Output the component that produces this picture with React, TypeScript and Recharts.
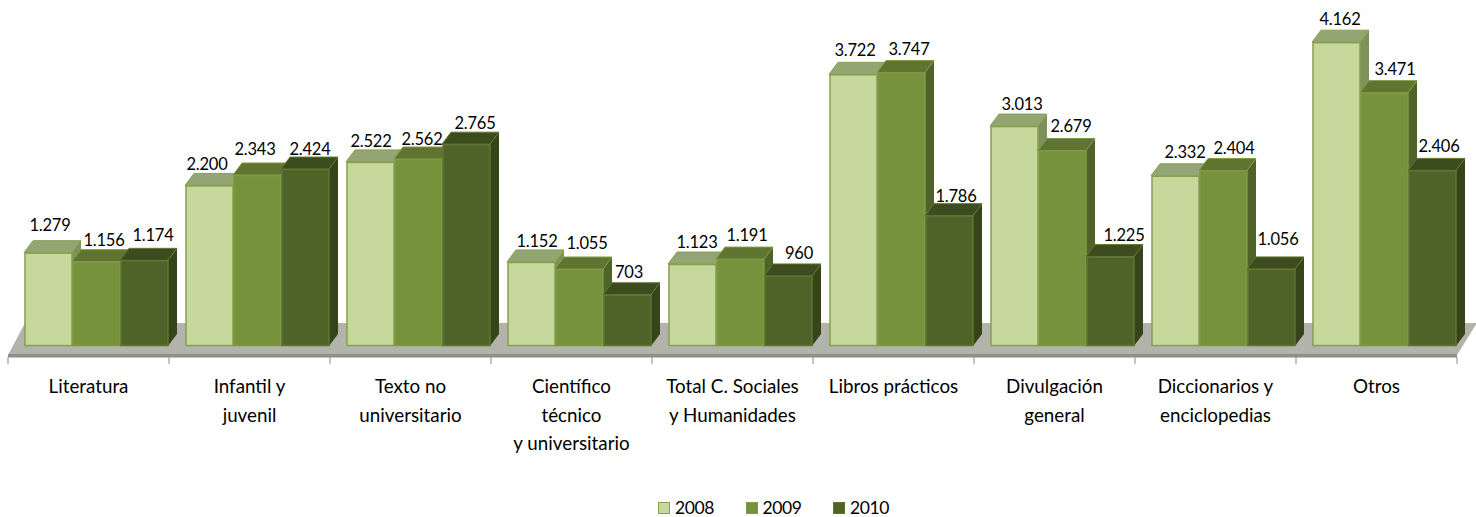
import React from "react";
import { BarChart, Bar, XAxis, YAxis, Legend, LabelList, ReferenceArea } from "recharts";

const categories = [
  ["Literatura"],
  ["Infantil y", "juvenil"],
  ["Texto no", "universitario"],
  ["Científico", "técnico", "y universitario"],
  ["Total C. Sociales", "y Humanidades"],
  ["Libros prácticos"],
  ["Divulgación", "general"],
  ["Diccionarios y", "enciclopedias"],
  ["Otros"],
];
const values2008 = [1279, 2200, 2522, 1152, 1123, 3722, 3013, 2332, 4162];
const values2009 = [1156, 2343, 2562, 1055, 1191, 3747, 2679, 2404, 3471];
const values2010 = [1174, 2424, 2765, 703, 960, 1786, 1225, 1056, 2406];

// Hand-placed label nudges of the original, [dx, dy] from the bar's top centre
const nudges2008 = [[2, -28], [-2, -21], [1, -21], [6, -21], [5, -22], [2, -24], [8, -22], [10, -24], [4, -23]];
const nudges2009 = [[8, -22], [-2, -26], [4, -20], [8, -26], [7, -24], [8, -23], [9, -24], [11, -23], [11, -24]];
const nudges2010 = [[9, -25], [5, -20], [9, -21], [2, -23], [11, -23], [7, -20], [14, -22], [7, -30], [7, -24]];

const data = categories.map((c, i) => ({
  name: c.join("|"),
  y2008: values2008[i],
  y2009: values2009[i],
  y2010: values2010[i],
}));

const FONT = "Lato, 'Open Sans', sans-serif";
const SHIFT = 7.5;
const DX = 9;
const DY = 12;

const fmt = (v: number) => (v >= 1000 ? `${Math.floor(v / 1000)}.${String(v % 1000).padStart(3, "0")}` : String(v));

const styles = {
  y2008: { front: "#c6d89c", top: "#93a573", side: "#7f915a", stroke: "#86a04e" },
  y2009: { front: "#76923c", top: "#5f752f", side: "#4f6228", stroke: "#7f9a46" },
  y2010: { front: "#4f6228", top: "#3d4c1e", side: "#364419", stroke: "#5e7630" },
};

const bar3d = (key: keyof typeof styles) => (p: any) => {
  const s = styles[key];
  const x = p.x + SHIFT;
  const { y, width: w, height: h } = p;
  return (
    <g>
      <polygon points={`${x + w},${y} ${x + w + DX},${y - DY} ${x + w + DX},${y + h - DY} ${x + w},${y + h}`} fill={s.side} />
      <polygon points={`${x},${y} ${x + DX},${y - DY} ${x + w + DX},${y - DY} ${x + w},${y}`} fill={s.top} stroke={s.stroke} strokeWidth={1} />
      <rect x={x + 1} y={y + 0.5} width={w - 1} height={h - 1} fill={s.front} stroke={s.stroke} strokeWidth={1.5} />
    </g>
  );
};

const valueLabel = (nudges: number[][]) => (p: any) => {
  const [dx, dy] = nudges[p.index];
  return (
    <text
      x={p.x + SHIFT + p.width / 2 + dx}
      y={p.y + dy}
      textAnchor="middle"
      dominantBaseline="central"
      fontFamily={FONT}
      fontSize={16.5}
      letterSpacing={-0.25}
      fill="#000"
    >
      {fmt(p.value)}
    </text>
  );
};

const Floor = (p: any) => {
  const { x, y, width: w, height: h } = p;
  const b = y + h;
  return (
    <g>
      <polygon points={`${x},${b - 2} ${x + 17},${y} ${x + w + 20},${y} ${x + w},${b - 2}`} fill="#b2b4ac" />
      <rect x={x} y={b - 3} width={w} height={3} fill="#8f908c" />
    </g>
  );
};

const Tick = (p: any) => {
  const { x, payload, index } = p;
  const band = 161;
  const lines = String(payload.value).split("|");
  return (
    <g>
      <line x1={x - band / 2} x2={x - band / 2} y1={357} y2={364} stroke="#8a8a8a" />
      {index === categories.length - 1 && <line x1={x + band / 2} x2={x + band / 2} y1={357} y2={364} stroke="#8a8a8a" />}
      {lines.map((l, i) => (
        <text key={i} x={x} y={385.5 + i * 28.5} textAnchor="middle" dominantBaseline="central" fontFamily={FONT} fontSize={18.8} fill="#000">
          {l}
        </text>
      ))}
    </g>
  );
};

const LegendBox = (p: any) => (
  <div style={{ display: "flex", fontFamily: FONT, fontSize: 17.5, letterSpacing: -0.4, color: "#000", lineHeight: "14px" }}>
    {p.payload.map((e: any, i: number) => (
      <div key={e.value} style={{ display: "flex", alignItems: "center", width: 87.5 }}>
        <span style={{ display: "inline-block", boxSizing: "border-box", width: 12, height: 12, marginRight: 5, background: e.color, border: `1.5px solid ${Object.values(styles)[i].stroke}` }} />
        {e.value}
      </div>
    ))}
  </div>
);

export default function App() {
  return (
    <div style={{ position: "absolute", left: 0, top: 0 }}>
      <BarChart
        width={1476}
        height={517}
        data={data}
        margin={{ top: 17.5, right: 19, bottom: 116, left: 8 }}
        barCategoryGap={8.5}
        barGap={0}
      >
        <YAxis hide domain={[-150, 4500]} />
        <XAxis dataKey="name" axisLine={{ stroke: "#8a8a8a" }} tickLine={false} tick={<Tick />} interval={0} />
        <ReferenceArea y1={-150} y2={316} shape={<Floor />} ifOverflow="visible" />
        <Bar name="2008" dataKey="y2008" fill={styles.y2008.front} isAnimationActive={false} shape={bar3d("y2008")}>
          <LabelList dataKey="y2008" content={valueLabel(nudges2008)} />
        </Bar>
        <Bar name="2009" dataKey="y2009" fill={styles.y2009.front} isAnimationActive={false} shape={bar3d("y2009")}>
          <LabelList dataKey="y2009" content={valueLabel(nudges2009)} />
        </Bar>
        <Bar name="2010" dataKey="y2010" fill={styles.y2010.front} isAnimationActive={false} shape={bar3d("y2010")}>
          <LabelList dataKey="y2010" content={valueLabel(nudges2010)} />
        </Bar>
        <Legend content={<LegendBox />} wrapperStyle={{ position: "absolute", left: 658, top: 501, width: 300, bottom: "auto" }} />
      </BarChart>
    </div>
  );
}
